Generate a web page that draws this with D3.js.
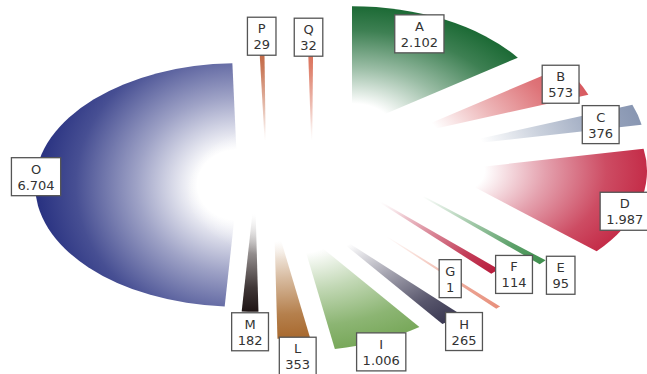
<!DOCTYPE html>
<html><head><meta charset="utf-8">
<script src="https://cdn.jsdelivr.net/npm/d3@7"></script>
<style>html,body{margin:0;padding:0;background:#fff;} svg{display:block;}</style>
</head><body><svg id="c" width="647" height="374"></svg>
<script>
// ---- data ----
const categories = ["A","B","C","D","E","F","G","H","I","L","M","O","P","Q"];
const values = [2102,573,376,1987,95,114,1,265,1006,353,182,6704,29,32];

// ---- styles ----
const colors = ["#1c6a35","#d85a60","#8896b2","#c42c48","#3f8f4e","#b81c3c","#e8907c",
                "#3a3852","#78a85a","#a8692e","#1e1414","#273080","#c0603a","#d86850"];
// vertical stretch of each slice's shading (1 = follows the ellipse)
const shadeStretch = [1,1,1,1,1,1,1,1,1,1,1,1.45,1,1];

// ---- layout (explode offsets of each slice apex from the pie centre, label nudges) ----
const centre = [245,185];
const apexOffset = [[107,-57],[153,-48],[197,-38],[199,-14],[148,-5],[107,0],[114,34],
                    [77,41],[54,44],[29,32],[10,5],[-7,0],[21,-20],[67,-20]];
const labelNudge = [[-26,14],[-17,4],[-37,10],[-15,8],[18,13],[19,3],[-48,-29],
                    [12,12],[2,11],[4,18],[0,20],[1,-6],[0,-7],[-2,-6]];
const R = 203, K = 0.6, minAngle = 0.026;

const fmt = d3.formatLocale({decimal:",", thousands:".", grouping:[3], currency:["","€"]}).format(",");
const data = categories.map((c,i)=>({cat:c, v:values[i], color:colors[i], i}));
const pie = d3.pie().sort(null).value(d=>d.v).startAngle(0).endAngle(2*Math.PI);
const arcs = pie(data);
const arc = d3.arc().innerRadius(0).outerRadius(R);

const svg = d3.select("#c");
const defs = svg.append("defs");
const white = "#ffffff";

arcs.forEach(a=>{
  const d = a.data;
  const g = defs.append("radialGradient").attr("id","g"+d.i)
    .attr("gradientUnits","userSpaceOnUse").attr("cx",0).attr("cy",0).attr("r",R)
    .attr("gradientTransform",`scale(1,${shadeStretch[d.i]})`);
  const mix = d3.interpolateRgb(white, d.color);
  [[0,white],[0.2,white],[0.5,mix(0.45)],[0.8,mix(0.85)],[1,d.color]].forEach(s=>{
    g.append("stop").attr("offset",s[0]).attr("stop-color",s[1]);
  });
});

const slices = svg.append("g");
arcs.forEach(a=>{
  const d = a.data;
  let a0 = a.startAngle, a1 = a.endAngle;
  if (a1 - a0 < minAngle){ const m=(a0+a1)/2; a0=m-minAngle/2; a1=m+minAngle/2; }
  const ax = centre[0]+apexOffset[d.i][0], ay = centre[1]+apexOffset[d.i][1];
  slices.append("g").attr("transform",`translate(${ax},${ay}) scale(1,${K})`)
    .append("path")
    .attr("d", arc({startAngle:a0, endAngle:a1}))
    .attr("fill", `url(#g${d.i})`);
});

// central glow
const glow = defs.append("radialGradient").attr("id","glow");
glow.append("stop").attr("offset",0).attr("stop-color","#fff").attr("stop-opacity",1);
glow.append("stop").attr("offset",0.45).attr("stop-color","#fff").attr("stop-opacity",0.8);
glow.append("stop").attr("offset",1).attr("stop-color","#fff").attr("stop-opacity",0);
svg.append("ellipse").attr("cx",300).attr("cy",190).attr("rx",115).attr("ry",70)
  .attr("fill","url(#glow)");

// labels
const labels = svg.append("g").attr("font-family","DejaVu Sans, Verdana, sans-serif")
  .attr("font-size",13).attr("fill","#333");
arcs.forEach(a=>{
  const d = a.data;
  const m = (a.startAngle+a.endAngle)/2;
  const ax = centre[0]+apexOffset[d.i][0], ay = centre[1]+apexOffset[d.i][1];
  const x = ax + R*Math.sin(m) + labelNudge[d.i][0];
  const y = ay - R*K*Math.cos(m) + labelNudge[d.i][1];
  const g = labels.append("g").attr("transform",`translate(${x},${y})`);
  const rect = g.append("rect");
  const t1 = g.append("text").attr("text-anchor","middle").attr("y",-3).text(d.cat);
  const t2 = g.append("text").attr("text-anchor","middle").attr("y",13).text(fmt(d.v));
  const w = Math.max(t1.node().getBBox().width, t2.node().getBBox().width) + 12;
  const h = 38;
  rect.attr("x",-w/2).attr("y",-h/2).attr("width",w).attr("height",h)
    .attr("fill","#fff").attr("stroke","#555").attr("stroke-width",1.3);
});
</script></body></html>
